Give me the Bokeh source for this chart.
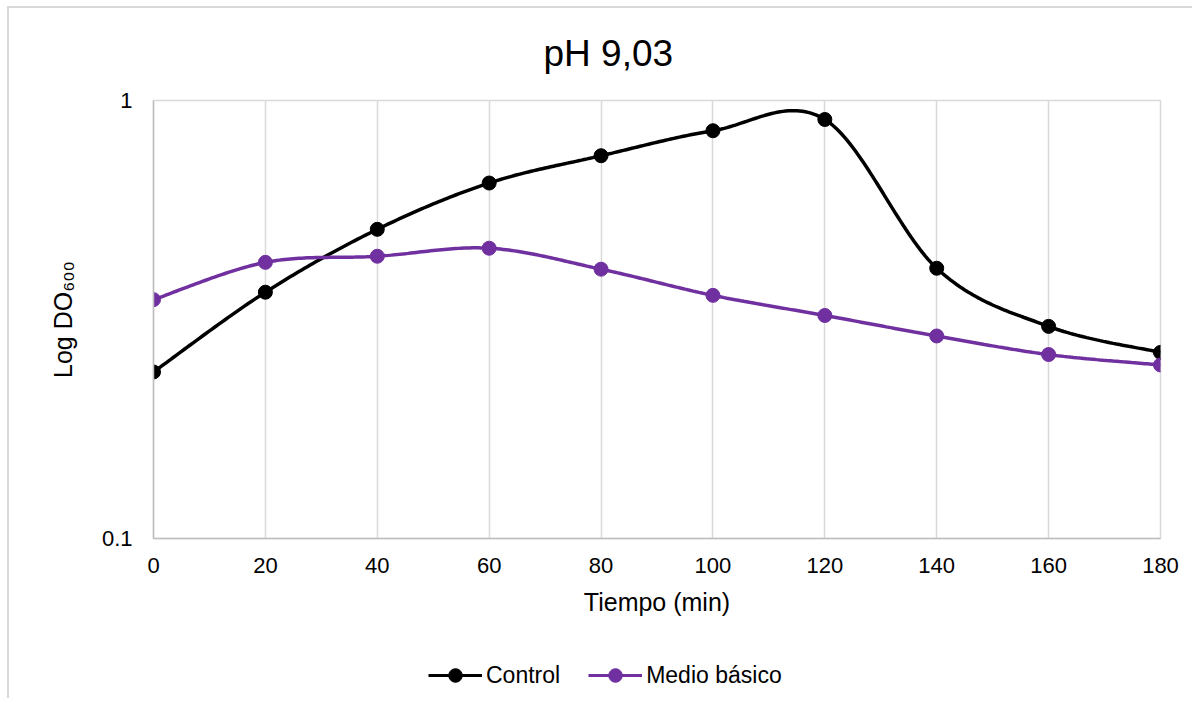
import numpy as np
from bokeh.plotting import figure
from bokeh.layouts import column
from bokeh.models import (Legend, LegendItem, FixedTicker, CustomJSTickFormatter, Range1d)
from bokeh.embed import file_html
from bokeh.resources import INLINE

# ---- data ----
tiempo = [0, 20, 40, 60, 80, 100, 120, 140, 160, 180]
control = [0.240, 0.365, 0.508, 0.648, 0.748, 0.853, 0.905, 0.414, 0.305, 0.266]
medio_basico = [0.351, 0.427, 0.441, 0.460, 0.412, 0.359, 0.323, 0.290, 0.263, 0.249]
x_ticks = [0, 20, 40, 60, 80, 100, 120, 140, 160, 180]
y_ticks = [0.1, 1]
series_names = ["Control", "Medio básico"]

FONT = "Liberation Sans"
BLACK = "#000000"
PURPLE = "#7030A0"
GRID = "#d9d9d9"


def smooth(xs, ys, n=40):
    """Excel-like Catmull-Rom (Bezier) smoothing in (x, log10 y) space."""
    px = np.asarray(xs, float)
    py = np.log10(np.asarray(ys, float))
    ox, oy = [], []
    m = len(px)
    for i in range(m - 1):
        i0, i3 = max(i - 1, 0), min(i + 2, m - 1)
        p0 = np.array([px[i], py[i]])
        p3 = np.array([px[i + 1], py[i + 1]])
        c1 = p0 + (p3 - np.array([px[i0], py[i0]])) / 6.0
        c2 = p3 - (np.array([px[i3], py[i3]]) - p0) / 6.0
        t = np.linspace(0, 1, n, endpoint=(i == m - 2))
        b = ((1 - t) ** 3)[:, None] * p0 + (3 * (1 - t) ** 2 * t)[:, None] * c1 \
            + (3 * (1 - t) * t ** 2)[:, None] * c2 + (t ** 3)[:, None] * p3
        ox.extend(b[:, 0])
        oy.extend(b[:, 1])
    return ox, list(10 ** np.array(oy))


W = 1192
p = figure(width=W, height=650, y_axis_type="log",
           x_range=Range1d(0, 180), y_range=Range1d(0.1, 1),
           output_backend="svg", toolbar_location=None,
           min_border_left=153, min_border_right=32,
           min_border_top=100, min_border_bottom=112,
           title="pH 9,03")
p.border_fill_color = None
p.styles = {
    "background": ("linear-gradient(#d9d9d9,#d9d9d9) 7px 6px / 100% 2px no-repeat, "
                   "linear-gradient(#d9d9d9,#d9d9d9) 7px 6px / 2px 100% no-repeat, #ffffff"),
}

p.title.text_font = FONT
p.title.text_font_size = "37px"
p.title.text_font_style = "normal"
p.title.text_color = "#000000"
p.title.align = "left"
p.title.offset = 390
p.title.standoff = 53

p.outline_line_color = GRID
p.outline_line_width = 1.5

p.xaxis.ticker = FixedTicker(ticks=x_ticks)
p.yaxis.ticker = FixedTicker(ticks=y_ticks)
p.yaxis.formatter = CustomJSTickFormatter(code="return tick.toString();")

for ax in (p.xaxis[0], p.yaxis[0]):
    ax.axis_line_color = "#bfbfbf"
    ax.axis_line_width = 1.5
    ax.major_tick_line_color = None
    ax.minor_tick_line_color = None
    ax.major_label_text_font = FONT
    ax.major_label_text_font_size = "22px"
    ax.major_label_text_color = "#000000"
    ax.axis_label_text_font = FONT
    ax.axis_label_text_font_size = "25px"
    ax.axis_label_text_font_style = "normal"
    ax.axis_label_text_color = "#000000"

p.xaxis.axis_label = "Tiempo (min)"
p.yaxis.axis_label = "Log DO\u2086\u2080\u2080"
p.xaxis.major_label_standoff = 13
p.yaxis.major_label_standoff = 15
p.xaxis.axis_label_standoff = 12
p.yaxis.axis_label_standoff = 22

p.xgrid.grid_line_color = GRID
p.xgrid.grid_line_width = 1.5
p.ygrid.grid_line_color = GRID
p.ygrid.grid_line_width = 1.5
p.ygrid.minor_grid_line_color = None

cx, cy = smooth(tiempo, control)
mx, my = smooth(tiempo, medio_basico)

p.line(cx, cy, line_color=BLACK, line_width=3.5)
p.scatter(tiempo, control, size=14, fill_color=BLACK, line_color=BLACK)
p.line(mx, my, line_color=PURPLE, line_width=3.5)
p.scatter(tiempo, medio_basico, size=14, fill_color=PURPLE, line_color=PURPLE)

# ---- legend strip below the chart (its series lie outside its own ranges) ----
q = figure(width=W, height=48, x_range=Range1d(0, 180), y_range=Range1d(-2, -1),
           output_backend="svg", toolbar_location=None,
           x_axis_location=None, y_axis_location=None, min_border=0)
q.grid.visible = False
q.outline_line_color = None
q.background_fill_color = None
q.border_fill_color = None
q.styles = {
    "background": ("linear-gradient(#d9d9d9,#d9d9d9) 7px 0 / 2px 100% no-repeat, #ffffff"),
}
k1 = q.line(tiempo, control, line_color=BLACK, line_width=3)
k1m = q.scatter(tiempo, control, size=14, fill_color=BLACK, line_color=BLACK)
k2 = q.line(tiempo, medio_basico, line_color=PURPLE, line_width=3)
k2m = q.scatter(tiempo, medio_basico, size=14, fill_color=PURPLE, line_color=PURPLE)

legend = Legend(items=[LegendItem(label=series_names[0], renderers=[k1, k1m]),
                       LegendItem(label=series_names[1], renderers=[k2, k2m])],
                orientation="horizontal", location=(275, 6),
                glyph_width=54, glyph_height=34, label_standoff=4, spacing=28,
                padding=0, margin=0, border_line_color=None, background_fill_alpha=0,
                label_text_font=FONT, label_text_font_size="23px",
                label_text_color="#000000")
q.add_layout(legend, "center")

layout = column(p, q, spacing=0)
open("out.html", "w").write(file_html(layout, INLINE))
